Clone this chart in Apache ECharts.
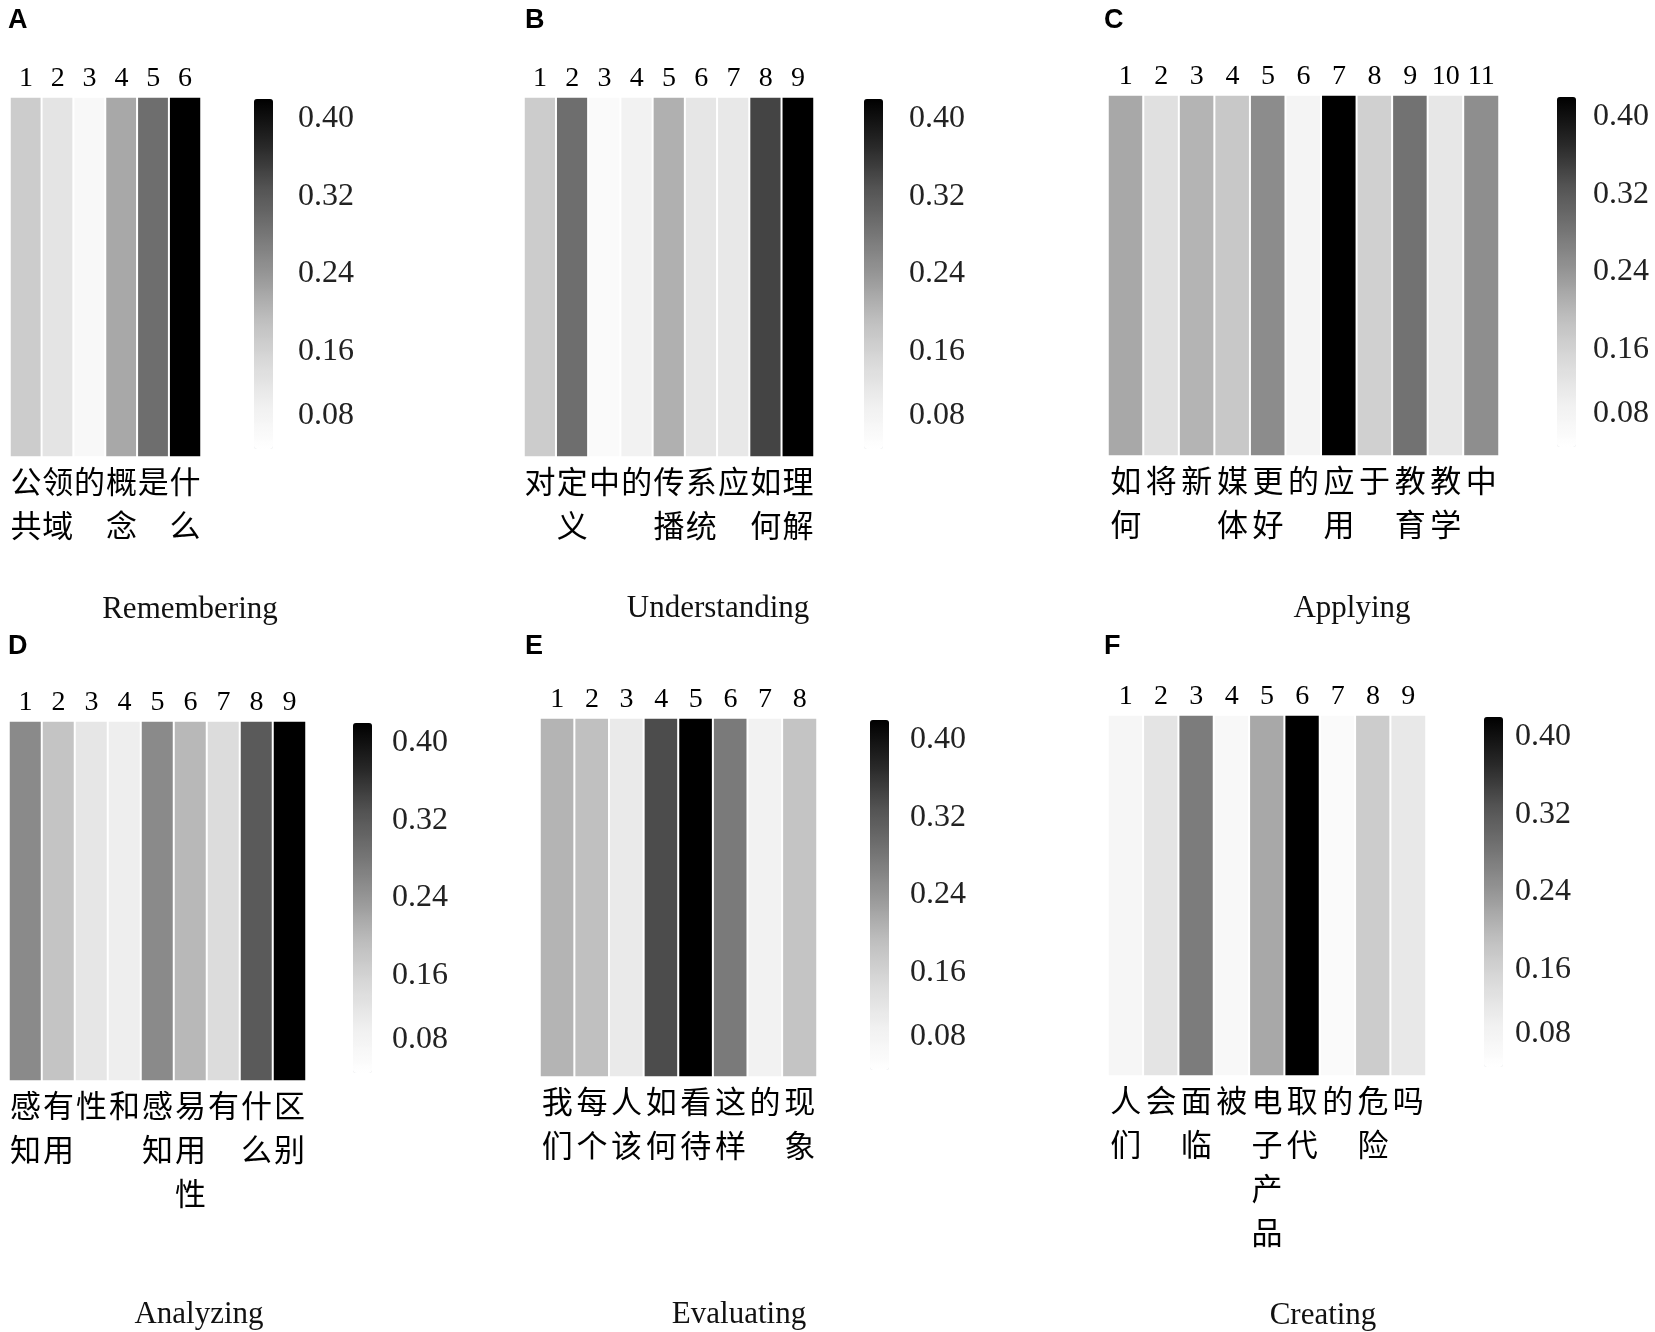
<!DOCTYPE html>
<html lang="zh">
<head>
	<meta charset="UTF-8">
	<title>Bloom heatmaps</title>
	<style>
		* {
			margin: 0;
			padding: 0;
		}

		#box {
			width: 1655px;
			height: 1332px;
			background: #fff;
		}
	</style>
	<script src="https://cdn.jsdelivr.net/npm/echarts@6/dist/echarts.min.js"></script>
</head>
<body>
<div id="box"></div>
<script>
	// 每个面板的词和权重
	const wordsA = ['公共', '领域', '的', '概念', '是', '什么'];
	const valuesA = [0.171, 0.128, 0.081, 0.219, 0.292, 0.42];

	const wordsB = ['对', '定义', '中', '的', '传播', '系统', '应', '如何', '理解'];
	const valuesB = [0.171, 0.292, 0.075, 0.099, 0.210, 0.124, 0.120, 0.344, 0.42];

	const wordsC = ['如何', '将', '新', '媒体', '更好', '的', '应用', '于', '教育', '教学', '中'];
	const valuesC = [0.219, 0.136, 0.205, 0.177, 0.253, 0.093, 0.42, 0.164, 0.287, 0.122, 0.250];

	const wordsD = ['感知', '有用', '性', '和', '感知', '易用性', '有', '什么', '区别'];
	const valuesD = [0.255, 0.184, 0.124, 0.109, 0.255, 0.201, 0.144, 0.319, 0.42];

	const wordsE = ['我们', '每个', '人该', '如何', '看待', '这样', '的', '现象'];
	const valuesE = [0.205, 0.190, 0.117, 0.336, 0.42, 0.276, 0.099, 0.184];

	const wordsF = ['人们', '会', '面临', '被', '电子产品', '取代', '的', '危险', '吗'];
	const valuesF = [0.087, 0.128, 0.273, 0.081, 0.219, 0.42, 0.075, 0.171, 0.120];

	const panelLetters = ['A', 'B', 'C', 'D', 'E', 'F'];
	const panelNames = ['Remembering', 'Understanding', 'Applying', 'Analyzing', 'Evaluating', 'Creating'];
	const colorbarTicks = [0.08, 0.16, 0.24, 0.32, 0.40];

	// 版面位置（像素）
	const layout = [
		{bar: [12, 99, 187, 356], cbar: [254, 99], labelX: 298, title: [8, 21], sub: [190, 610]},
		{bar: [526, 99, 286, 356], cbar: [864, 99], labelX: 909, title: [525, 21], sub: [718, 609]},
		{bar: [1110, 97, 387, 357], cbar: [1557, 97], labelX: 1593, title: [1104, 21], sub: [1352, 609]},
		{bar: [11, 723, 293, 356], cbar: [353, 723], labelX: 392, title: [8, 647], sub: [199, 1315]},
		{bar: [542, 720, 273, 355], cbar: [870, 720], labelX: 910, title: [525, 647], sub: [739, 1315]},
		{bar: [1110, 717, 314, 357], cbar: [1484, 717], labelX: 1515, title: [1104, 647], sub: [1323, 1316]},
	];

	const words = [wordsA, wordsB, wordsC, wordsD, wordsE, wordsF];
	const values = [valuesA, valuesB, valuesC, valuesD, valuesE, valuesF];

	const greys = ['#ffffff', '#f0f0f0', '#d9d9d9', '#bdbdbd', '#969696', '#737373', '#525252', '#252525', '#000000'];
	const vMin = 0.06, vMax = 0.42;
	const pxPerUnit = 971;   // 色条刻度间距
	const serif = '"Liberation Serif", "Times New Roman", serif';
	const cjk = '"Noto Sans CJK SC", sans-serif';

	const grid = [], xAxis = [], yAxis = [], series = [], visualMap = [], graphic = [];

	layout.forEach(function (p, i) {
		const g = grid.length;
		// 热图
		grid.push({left: p.bar[0] - 2, top: p.bar[1] - 2, width: p.bar[2] + 4, height: p.bar[3] + 4});
		xAxis.push({
			type: 'category', gridIndex: g, position: 'bottom', data: words[i],
			axisLine: {show: false}, axisTick: {show: false},
			axisLabel: {
				interval: 0, margin: 2, color: '#000', fontFamily: cjk, fontSize: 31, lineHeight: 44,
				verticalAlign: 'top',
				formatter: function (w) { return w.split('').join('\n'); },
			},
		});
		const xBottom = xAxis.length - 1;
		xAxis.push({
			type: 'category', gridIndex: g, position: 'top',
			data: words[i].map(function (w, k) { return String(k + 1); }),
			axisLine: {show: false}, axisTick: {show: false},
			axisLabel: {interval: 0, margin: 4, color: '#000', fontFamily: serif, fontSize: 28},
		});
		yAxis.push({type: 'category', gridIndex: g, data: [''], show: false});
		const yHeat = yAxis.length - 1;

		series.push({
			type: 'heatmap', xAxisIndex: xBottom, yAxisIndex: yHeat,
			data: values[i].map(function (v, k) { return [k, 0, v]; }),
			itemStyle: {borderColor: '#fff', borderWidth: 2},
			emphasis: {disabled: true},
			silent: true,
		});
		const sIdx = series.length - 1;

		// 色条
		visualMap.push({
			type: 'continuous', seriesIndex: sIdx, min: vMin, max: vMax,
			inRange: {color: greys}, calculable: false, hoverLink: false,
			left: p.cbar[0], top: p.cbar[1], padding: 0,
			itemWidth: 19, itemHeight: Math.round((vMax - vMin) * pxPerUnit),
		});

		// 色条刻度
		const gc = grid.length;
		grid.push({left: p.cbar[0], top: p.cbar[1], width: 19, height: Math.round(vMax * pxPerUnit)});
		xAxis.push({type: 'value', gridIndex: gc, show: false});
		yAxis.push({
			type: 'value', gridIndex: gc, position: 'right', min: 0, max: vMax, interval: 0.08,
			axisLine: {show: false}, axisTick: {show: false}, splitLine: {show: false},
			axisLabel: {
				margin: p.labelX - p.cbar[0] - 19, color: '#222', fontFamily: serif, fontSize: 32,
				formatter: function (v) {
					const hit = colorbarTicks.find(function (t) { return Math.abs(t - v) < 1e-6; });
					if (hit === undefined) return '';
					if (hit === 0.08) return '{lo|0.08}';
					return hit.toFixed(2);
				},
				rich: {lo: {fontFamily: serif, fontSize: 32, color: '#222', padding: [0, 0, 28, 0]}},
			},
		});

		graphic.push({
			type: 'text', x: p.title[0], y: p.title[1],
			style: {text: panelLetters[i], fill: '#000', font: 'bold 27px "Liberation Sans", Arial, sans-serif',
				align: 'left', verticalAlign: 'middle'},
		});
		graphic.push({
			type: 'text', x: p.sub[0], y: p.sub[1],
			style: {text: panelNames[i], fill: '#111', font: '31px ' + serif,
				align: 'center', verticalAlign: 'middle'},
		});
	});

	const myChart = echarts.init(document.getElementById('box'));
	myChart.setOption({
		animation: false,
		backgroundColor: '#fff',
		grid: grid,
		xAxis: xAxis,
		yAxis: yAxis,
		visualMap: visualMap,
		series: series,
		graphic: graphic,
	});
</script>
</body>
</html>
